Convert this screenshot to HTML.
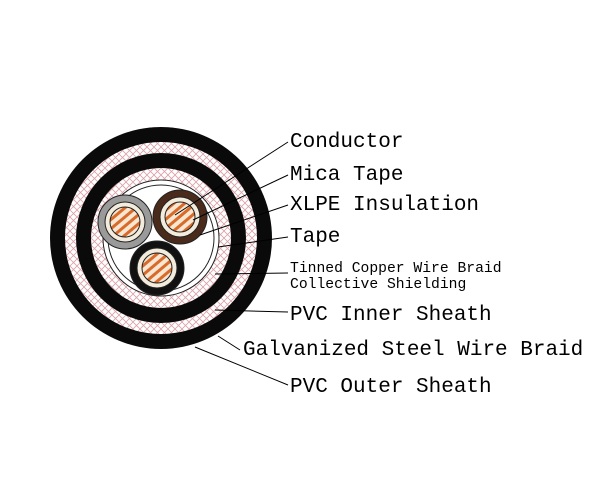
<!DOCTYPE html>
<html><head><meta charset="utf-8"><style>
html,body{margin:0;padding:0;background:#fff;width:600px;height:500px;overflow:hidden}
text{font-family:"Liberation Mono",monospace;fill:#000}
</style></head><body>
<svg width="600" height="500" viewBox="0 0 600 500" xmlns="http://www.w3.org/2000/svg">
<defs>
<pattern id="braid" width="7" height="7" patternUnits="userSpaceOnUse">
<rect width="7" height="7" fill="#fff"/>
<path d="M0 0L7 7M7 0L0 7" stroke="#dba0a8" stroke-width="0.8"/>
</pattern>
<pattern id="cu" width="7" height="7" patternUnits="userSpaceOnUse" patternTransform="rotate(-40)">
<rect width="7" height="7" fill="#f7e6d2"/>
<rect width="7" height="3" fill="#d86a2a"/>
</pattern>
</defs>
<circle cx="161" cy="238" r="111" fill="#0a0a0a"/>
<circle cx="161" cy="238" r="96" fill="url(#braid)"/>
<circle cx="161" cy="238" r="85" fill="#0a0a0a"/>
<circle cx="161" cy="238" r="70" fill="url(#braid)"/>
<circle cx="161" cy="238" r="58" fill="#fff" stroke="#222" stroke-width="1"/>
<circle cx="161" cy="238" r="53" fill="#fff" stroke="#222" stroke-width="1"/>
<g stroke="#222" stroke-width="1">
<circle cx="125" cy="222" r="27" fill="#9a9a9a"/>
<circle cx="125" cy="222" r="20" fill="#f3ecdd"/>
<circle cx="125" cy="222" r="15" fill="url(#cu)"/>
<circle cx="180" cy="217" r="27" fill="#4a2a1a"/>
<circle cx="180" cy="217" r="20" fill="#f3ecdd"/>
<circle cx="180" cy="217" r="15" fill="url(#cu)"/>
<circle cx="157" cy="268" r="27" fill="#111"/>
<circle cx="157" cy="268" r="20" fill="#f3ecdd"/>
<circle cx="157" cy="268" r="15" fill="url(#cu)"/>
</g>
<g stroke="#000" stroke-width="1" fill="none">
<line x1="288" y1="142" x2="175" y2="215"/>
<line x1="288" y1="175" x2="193" y2="220"/>
<line x1="288" y1="205" x2="200" y2="235"/>
<line x1="288" y1="237" x2="218" y2="247"/>
<line x1="288" y1="273" x2="215" y2="274"/>
<line x1="288" y1="312" x2="215" y2="310"/>
<line x1="240" y1="350" x2="218" y2="336"/>
<line x1="288" y1="385" x2="195" y2="347"/>
</g>
<text x="290" y="147" font-size="21">Conductor</text>
<text x="290" y="180" font-size="21">Mica Tape</text>
<text x="290" y="210" font-size="21">XLPE Insulation</text>
<text x="290" y="242" font-size="21">Tape</text>
<text x="290" y="272" font-size="14.7">Tinned Copper Wire Braid</text>
<text x="290" y="288" font-size="14.7">Collective Shielding</text>
<text x="290" y="320" font-size="21">PVC Inner Sheath</text>
<text x="243" y="355" font-size="21">Galvanized Steel Wire Braid</text>
<text x="290" y="392" font-size="21">PVC Outer Sheath</text>
</svg>
</body></html>
